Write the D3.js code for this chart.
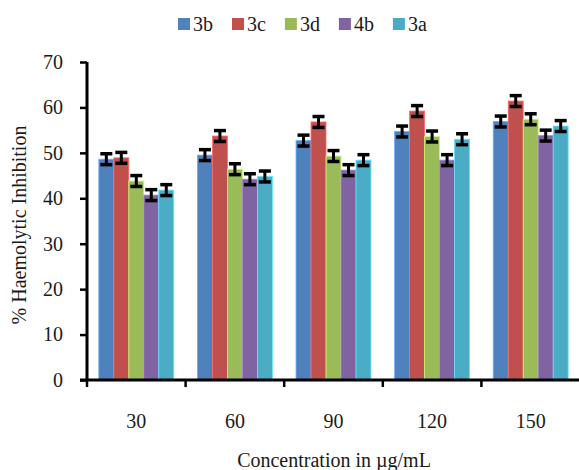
<!DOCTYPE html>
<html>
<head>
<meta charset="utf-8">
<script src="https://cdn.jsdelivr.net/npm/d3@7"></script>
<style>
  body { margin: 0; background: #fff; }
  svg text { font-family: "Liberation Serif", "Times New Roman", serif; fill: #1a1a1a; }
</style>
</head>
<body>
<div id="chart"></div>
<script>
const concentrations = ["30", "60", "90", "120", "150"];
const seriesNames = ["3b", "3c", "3d", "4b", "3a"];
const seriesColors = ["#4F81BD", "#C0504D", "#9BBB59", "#8064A2", "#4BACC6"];

// values per series, one per concentration
const v3b = [48.6, 49.5, 52.7, 54.7, 56.9];
const v3c = [48.9, 53.7, 56.8, 59.2, 61.4];
const v3d = [43.8, 46.4, 49.3, 53.6, 57.4];
const v4b = [40.7, 44.2, 46.2, 48.4, 53.8];
const v3a = [41.8, 44.8, 48.4, 53.0, 55.9];
const errors = [1.2, 1.2, 1.2, 1.2, 1.2];

const yTicks = [0, 10, 20, 30, 40, 50, 60, 70];

const values = [v3b, v3c, v3d, v4b, v3a];
const rows = [];
concentrations.forEach((c, i) => {
  seriesNames.forEach((s, j) => {
    rows.push({ conc: c, series: s, value: values[j][i], err: errors[j], color: seriesColors[j] });
  });
});

const width = 579, height = 470;
const margin = { left: 87, right: 0, top: 62, bottom: 90 };
const serif = "'Liberation Serif', 'Times New Roman', serif";
const fs = "20px";

const svg = d3.select("#chart").append("svg")
  .attr("width", width)
  .attr("height", height);

const x0 = d3.scaleBand()
  .domain(concentrations)
  .range([margin.left, 580])
  .paddingInner(0.24)
  .paddingOuter(0.12);

const x1 = d3.scaleBand()
  .domain(seriesNames)
  .range([0, x0.bandwidth()]);

const y = d3.scaleLinear()
  .domain([0, 70])
  .range([380, 62]);

// bars
svg.append("g")
  .selectAll("rect")
  .data(rows)
  .join("rect")
  .attr("x", (d) => x0(d.conc) + x1(d.series))
  .attr("y", (d) => y(d.value))
  .attr("width", x1.bandwidth())
  .attr("height", (d) => y(0) - y(d.value))
  .attr("fill", (d) => d.color)
  .attr("stroke", (d) => d3.color(d.color).brighter(0.8))
  .attr("stroke-width", 0.8);

// error bars
const eb = svg.append("g")
  .attr("stroke", "#000")
  .selectAll("g")
  .data(rows)
  .join("g")
  .attr("transform", (d) => `translate(${x0(d.conc) + x1(d.series) + x1.bandwidth() / 2},0)`);

eb.append("line")
  .attr("y1", (d) => y(d.value + d.err))
  .attr("y2", (d) => y(d.value - d.err))
  .attr("stroke-width", 3);
eb.append("line")
  .attr("x1", -6).attr("x2", 6)
  .attr("y1", (d) => y(d.value + d.err))
  .attr("y2", (d) => y(d.value + d.err))
  .attr("stroke-width", 3.5);
eb.append("line")
  .attr("x1", -6).attr("x2", 6)
  .attr("y1", (d) => y(d.value - d.err))
  .attr("y2", (d) => y(d.value - d.err))
  .attr("stroke-width", 3.5);

// y axis
const yAxis = svg.append("g")
  .attr("transform", `translate(${margin.left},0)`)
  .call(d3.axisLeft(y).tickValues(yTicks).tickSize(7).tickPadding(17))
  .attr("font-family", null)
  .attr("font-size", null);
yAxis.select(".domain").attr("stroke", "#000").attr("stroke-width", 3)
  .attr("d", `M0,${y(70)}V${y(0)}`);
yAxis.selectAll(".tick line").attr("stroke", "#000").attr("stroke-width", 2.5);
yAxis.selectAll(".tick text")
  .style("font-size", fs)
  .style("font-family", serif);

// x axis with ticks at category boundaries
const xAxis = svg.append("g")
  .attr("transform", `translate(0,${y(0)})`);
xAxis.append("line")
  .attr("x1", margin.left - 7).attr("x2", 580)
  .attr("stroke", "#000").attr("stroke-width", 3);
const bounds = concentrations.map((c) => x0(c) - x0.step() * 0.12);
xAxis.selectAll(".bt")
  .data(bounds)
  .join("line")
  .attr("x1", (d) => d).attr("x2", (d) => d)
  .attr("y1", 0).attr("y2", 7)
  .attr("stroke", "#000").attr("stroke-width", 2.5);
xAxis.selectAll(".lbl")
  .data(concentrations)
  .join("text")
  .attr("x", (d) => x0(d) + x0.bandwidth() / 2)
  .attr("y", 48)
  .attr("text-anchor", "middle")
  .style("font-size", fs)
  .style("font-family", serif)
  .text((d) => d);

// axis titles
svg.append("text")
  .attr("x", 334)
  .attr("y", 467)
  .attr("text-anchor", "middle")
  .style("font-size", fs)
  .style("font-family", serif)
  .text("Concentration in µg/mL");

svg.append("text")
  .attr("transform", "translate(26,225) rotate(-90)")
  .attr("text-anchor", "middle")
  .style("font-size", fs)
  .style("font-family", serif)
  .text("% Haemolytic  Inhibition");

// legend, laid out by text width
const legend = svg.append("g")
  .attr("transform", "translate(178,18)");
let lx = 0;
seriesNames.forEach((name, i) => {
  const g = legend.append("g").attr("transform", `translate(${lx},0)`);
  g.append("rect")
    .attr("width", 12).attr("height", 12)
    .attr("fill", seriesColors[i]);
  const t = g.append("text")
    .attr("x", 15).attr("y", 12.5)
    .style("font-size", fs)
    .style("font-family", serif)
    .text(name);
  lx += 15 + t.node().getComputedTextLength() + 19;
});
</script>
</body>
</html>
